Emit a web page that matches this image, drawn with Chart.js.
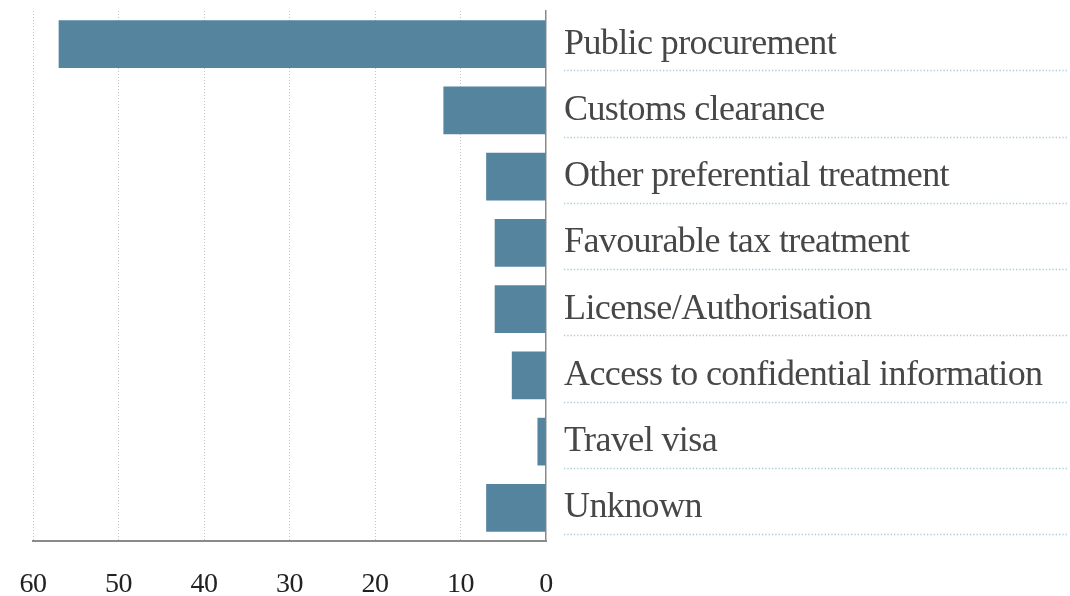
<!DOCTYPE html>
<html>
<head>
<meta charset="utf-8">
<script src="https://cdn.jsdelivr.net/npm/chart.js@4/dist/chart.umd.min.js"></script>
<style>
  html, body { margin: 0; padding: 0; background: #fff; }
  #wrap { width: 1070px; height: 596px; }
</style>
</head>
<body>
<div id="wrap"><canvas id="benefitChart"></canvas></div>
<script>
const categories = [
    'Public procurement',
    'Customs clearance',
    'Other preferential treatment',
    'Favourable tax treatment',
    'License/Authorisation',
    'Access to confidential information',
    'Travel visa',
    'Unknown'
];
const counts = [57, 12, 7, 6, 6, 4, 1, 7];
const xTicks = [0, 10, 20, 30, 40, 50, 60];

// dotted line under each category label + tighter text tracking
const underlinePlugin = {
    id: 'labelUnderline',
    beforeDraw(chart) {
        chart.ctx.letterSpacing = '-0.6px';
    },
    afterDraw(chart) {
        const ctx = chart.ctx;
        ctx.letterSpacing = '0px';
        const y = chart.scales.y;
        const band = (y.bottom - y.top) / categories.length;
        ctx.save();
        ctx.strokeStyle = '#a9cbd6';
        ctx.lineWidth = 1.3;
        ctx.setLineDash([1.3, 2]);
        categories.forEach((c, i) => {
            const py = Math.round(y.getPixelForTick(i) + band / 2 - 7) + 0.5;
            ctx.beginPath();
            ctx.moveTo(564, py);
            ctx.lineTo(1068, py);
            ctx.stroke();
        });
        ctx.restore();
    }
};

new Chart(document.getElementById('benefitChart'), {
    type: 'bar',
    data: {
        labels: categories,
        datasets: [{
            data: counts,
            backgroundColor: '#55849f',
            borderWidth: 0,
            barPercentage: 0.72,
            categoryPercentage: 1
        }]
    },
    options: {
        indexAxis: 'y',
        responsive: true,
        maintainAspectRatio: false,
        animation: false,
        layout: { padding: { left: 33, top: 11, right: 0, bottom: 0 } },
        plugins: {
            legend: { display: false },
            tooltip: { enabled: false }
        },
        scales: {
            x: {
                reverse: true,
                min: 0,
                max: 60,
                afterBuildTicks: (s) => { s.ticks = xTicks.map(v => ({ value: v })); },
                afterFit: (s) => { s.height = 55; },
                ticks: {
                    color: '#222',
                    padding: 27,
                    maxRotation: 0,
                    font: { family: "'Liberation Serif', serif", size: 28 }
                },
                grid: {
                    drawTicks: false,
                    color: (ctx) => ctx.tick && ctx.tick.value === 0 ? 'rgba(0,0,0,0)' : '#c4c4c4',
                    lineWidth: 1
                },
                border: { display: true, color: '#8a8a8a', width: 2, dash: [1, 2] }
            },
            y: {
                position: 'right',
                afterFit: (s) => {
                    s.width = 524;
                    s.paddingTop = 0;
                    s.paddingBottom = 0;
                },
                ticks: {
                    color: '#474747',
                    padding: 10,
                    font: { family: "'Liberation Serif', serif", size: 36 }
                },
                grid: { display: false },
                border: { display: true, color: '#8a8a8a', width: 1.5 }
            }
        }
    },
    plugins: [underlinePlugin]
});
</script>
</body>
</html>
